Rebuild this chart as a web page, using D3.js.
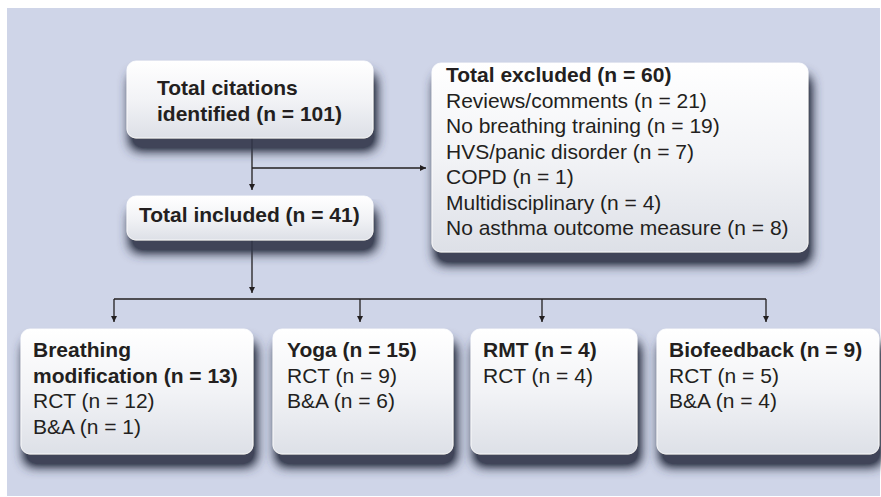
<!DOCTYPE html>
<html>
<head>
<meta charset="utf-8">
<script src="https://cdn.jsdelivr.net/npm/d3@7"></script>
<style>
  body { margin: 0; background: #fff; }
  text { font-family: "Liberation Sans", Arial, Helvetica, sans-serif; fill: #231f20; }
</style>
</head>
<body>
<div id="chart"></div>
<script>
// Flow diagram of citation screening

const topTitle = ['Total citations', 'identified (n = 101)'];
const includedTitle = ['Total included (n = 41)'];
const excludedTitle = 'Total excluded (n = 60)';
const excludedReasons = ['Reviews/comments', 'No breathing training', 'HVS/panic disorder', 'COPD', 'Multidisciplinary', 'No asthma outcome measure'];
const excludedCounts = [21, 19, 7, 1, 4, 8];
const groupTitles = [['Breathing', 'modification (n = 13)'], ['Yoga (n = 15)'], ['RMT (n = 4)'], ['Biofeedback (n = 9)']];
const groupDesigns = [['RCT', 'B&A'], ['RCT', 'B&A'], ['RCT'], ['RCT', 'B&A']];
const groupCounts = [[12, 1], [9, 6], [4], [5, 4]];

const width = 881, height = 497;
const lineH = 25.5;

const svg = d3.select('#chart').append('svg')
  .attr('width', width).attr('height', height);

const defs = svg.append('defs');
const grad = defs.append('linearGradient').attr('id', 'boxGrad')
  .attr('x1', 0).attr('y1', 0).attr('x2', 0).attr('y2', 1);
grad.append('stop').attr('offset', '0%').attr('stop-color', '#ffffff');
grad.append('stop').attr('offset', '50%').attr('stop-color', '#f2f3f6');
grad.append('stop').attr('offset', '100%').attr('stop-color', '#dde0e7');

// drop shadow: dark band under each box, fading out
const shadow = defs.append('filter').attr('id', 'shadow')
  .attr('x', '-20%').attr('y', '-20%').attr('width', '150%').attr('height', '180%');
shadow.append('feGaussianBlur').attr('in', 'SourceAlpha').attr('stdDeviation', 6).attr('result', 'blur');
shadow.append('feOffset').attr('in', 'blur').attr('dx', 3).attr('dy', 12).attr('result', 'off');
shadow.append('feComponentTransfer').attr('in', 'off').attr('result', 'offA')
  .append('feFuncA').attr('type', 'linear').attr('slope', 1.5);
shadow.append('feFlood').attr('flood-color', '#2f3548').attr('flood-opacity', 0.9);
shadow.append('feComposite').attr('in2', 'offA').attr('operator', 'in').attr('result', 'sh');
const merge = shadow.append('feMerge');
merge.append('feMergeNode').attr('in', 'sh');
merge.append('feMergeNode').attr('in', 'SourceGraphic');

defs.append('marker').attr('id', 'arrow')
  .attr('viewBox', '0 0 10 10').attr('refX', 10).attr('refY', 5)
  .attr('markerWidth', 8).attr('markerHeight', 6).attr('markerUnits', 'userSpaceOnUse')
  .attr('orient', 'auto')
  .append('path').attr('d', 'M0,0 L10,5 L0,10 Z').attr('fill', '#231f20');

// panel background
svg.append('rect').attr('x', 7).attr('y', 8).attr('width', 873).attr('height', 488)
  .attr('fill', '#cfd5e8');

// box layout
const boxes = [
  {x: 127, y: 61, w: 246, h: 77},   // total citations
  {x: 127, y: 196, w: 246, h: 44},  // total included
  {x: 432, y: 63, w: 376, h: 189},  // excluded
];
const groupBoxes = [
  {x: 21, w: 232}, {x: 273, w: 180}, {x: 471, w: 166}, {x: 657, w: 222}
];
const groupTop = 329, groupH = 125;

// connectors
const link = d3.line();
function connector(pts, arrow) {
  svg.append('path').attr('d', link(pts))
    .attr('fill', 'none').attr('stroke', '#231f20').attr('stroke-width', 1.3)
    .attr('marker-end', arrow ? 'url(#arrow)' : null);
}
const cx = 252;
connector([[cx, 138], [cx, 190]], true);
connector([[cx, 168], [426, 168]], true);
connector([[cx, 240], [cx, 293]], true);
const drops = [114, 360, 542, 766];
connector([[drops[0], 299], [drops[drops.length - 1], 299]], false);
drops.forEach(x => connector([[x, 299], [x, 322]], true));

function drawBox(b) {
  svg.append('rect').attr('x', b.x).attr('y', b.y).attr('width', b.w).attr('height', b.h)
    .attr('rx', 9).attr('ry', 9)
    .attr('fill', 'url(#boxGrad)').attr('filter', 'url(#shadow)')
    .attr('stroke', '#ffffff').attr('stroke-width', 1).attr('stroke-opacity', 0.8);
}
boxes.forEach(drawBox);
groupBoxes.forEach(b => drawBox({x: b.x, y: groupTop, w: b.w, h: groupH}));

function lines(x, y0, rows) {
  const t = svg.append('g');
  rows.forEach((r, i) => {
    t.append('text').attr('x', x).attr('y', y0 + i * lineH)
      .style('font-size', '21px')
      .style('font-weight', r.bold ? 'bold' : 'normal')
      .text(r.text);
  });
}

lines(157, 95, topTitle.map(t => ({text: t, bold: true})));
lines(139, 222, includedTitle.map(t => ({text: t, bold: true})));
lines(446, 82, [{text: excludedTitle, bold: true}]
  .concat(excludedReasons.map((r, i) => ({text: `${r} (n = ${excludedCounts[i]})`, bold: false}))));

const textX = [33, 287, 483, 669];
groupBoxes.forEach((b, gi) => {
  const rows = groupTitles[gi].map(t => ({text: t, bold: true}))
    .concat(groupDesigns[gi].map((d, j) => ({text: `${d} (n = ${groupCounts[gi][j]})`, bold: false})));
  lines(textX[gi], 357, rows);
});
</script>
</body>
</html>
